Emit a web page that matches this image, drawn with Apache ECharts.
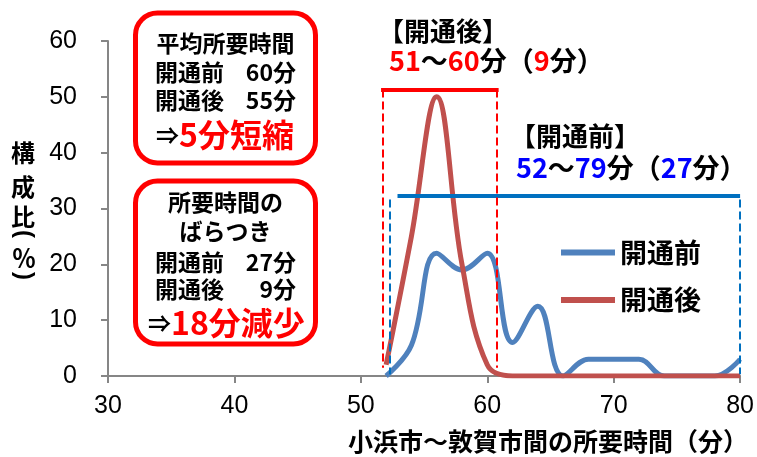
<!DOCTYPE html>
<html><head><meta charset="utf-8">
<script src="https://cdn.jsdelivr.net/npm/echarts@6/dist/echarts.min.js"></script>
<style>html,body{margin:0;padding:0;background:#fff}#c{width:757px;height:457px}</style>
</head><body><div id="c"></div>
<script>
// ---- data ----
const minutes = [52, 54, 56, 58, 60, 62, 64, 66, 68, 70, 72, 74, 76, 78, 80];
const before  = [0, 5.5, 22, 19, 22, 6, 12.5, 0, 3, 3, 3, 0, 0, 0, 3];   // 開通前
const after   = [2, 25, 50, 20, 2, 0, 0, 0, 0, 0, 0, 0, 0, 0, 0];        // 開通後
const seriesNames = ['開通前', '開通後'];
const xTicks = [30, 40, 50, 60, 70, 80];
const yTicks = [0, 10, 20, 30, 40, 50, 60];

const FF = '"Noto Sans CJK JP", "Noto Sans", sans-serif';
const NUM = '"Liberation Sans", Arial, sans-serif';
const AX = '#868686';

function pairs(xs, ys) { return xs.map((x, i) => [x, ys[i]]); }
function seg(x1, y1, x2, y2, color, width, type) {
  return [{ coord: [x1, y1], lineStyle: { color: color, width: width, type: type } }, { coord: [x2, y2] }];
}
function txt(x, y, s, size, align, color, rot, family) {
  return { type: 'text', x: x, y: y, rotation: rot || 0, style: { text: s, fontSize: size, fontWeight: 'bold', fontFamily: family || FF, fill: color || '#000', align: align || 'center', verticalAlign: 'middle' } };
}

const chart = echarts.init(document.getElementById('c'));
const option = {
  animation: false,
  backgroundColor: '#fff',
  grid: { left: 108, right: 15, top: 41, bottom: 81 },
  xAxis: {
    type: 'value', min: xTicks[0], max: xTicks[xTicks.length - 1], interval: 10,
    axisLine: { lineStyle: { color: AX, width: 2 } },
    axisTick: { length: 7, lineStyle: { color: AX, width: 2 } },
    splitLine: { show: false },
    axisLabel: { fontSize: 25, fontFamily: NUM, color: '#000', margin: 18 },
    name: '小浜市～敦賀市間の所要時間（分）',
    nameLocation: 'end', nameGap: 8,
    nameTextStyle: { fontSize: 25, fontWeight: 'bold', fontFamily: FF, color: '#000', align: 'right', verticalAlign: 'top', padding: [53, 0, 0, 0] }
  },
  yAxis: {
    type: 'value', min: yTicks[0], max: yTicks[yTicks.length - 1], interval: 10,
    axisLine: { show: true, lineStyle: { color: AX, width: 2 } },
    axisTick: { show: true, length: 7, lineStyle: { color: AX, width: 2 } },
    splitLine: { show: false },
    axisLabel: { fontSize: 25, fontFamily: NUM, color: '#000', margin: 31 }
  },
  legend: {
    orient: 'vertical', left: 561, top: 239, itemGap: 20.5, padding: 0,
    itemWidth: 54, itemHeight: 6, icon: 'rect',
    textStyle: { fontSize: 27, fontWeight: 'bold', fontFamily: FF, color: '#000' },
    data: seriesNames
  },
  series: [
    {
      name: seriesNames[0], type: 'line', data: pairs(minutes, before),
      smooth: 0.4, symbol: 'none', showSymbol: false,
      lineStyle: { color: '#4F81BD', width: 5 }, itemStyle: { color: '#4F81BD' },
      markLine: {
        silent: true, symbol: ['none', 'none'], label: { show: false },
        data: [
          seg(52.9, 32.3, 80, 32.3, '#0070C0', 4, 'solid'),
          seg(52.3, 31.6, 52.3, 0.3, '#0070C0', 2, 'dashed'),
          seg(80, 31.6, 80, 0.3, '#0070C0', 2, 'dashed')
        ]
      }
    },
    {
      name: seriesNames[1], type: 'line', data: pairs(minutes, after),
      smooth: 0.4, symbol: 'none', showSymbol: false,
      lineStyle: { color: '#C0504D', width: 5 }, itemStyle: { color: '#C0504D' },
      markLine: {
        silent: true, symbol: ['none', 'none'], label: { show: false },
        data: [
          seg(51.6, 51.3, 60.9, 51.3, '#FF0000', 4, 'solid'),
          seg(51.7, 51.3, 51.7, 1.5, '#FF0000', 2, 'dashed'),
          seg(60.75, 51.3, 60.75, 1.5, '#FF0000', 2, 'dashed')
        ]
      }
    }
  ],
  graphic: [
    // y-axis title (vertical writing; parentheses turned sideways)
    txt(23, 153, '構', 24),
    txt(23, 186.5, '成', 24),
    txt(23, 217, '比', 24),
    txt(24, 234, '(', 24, 'center', '#000', -Math.PI / 2, NUM),
    txt(24, 257.5, '％', 24),
    txt(24, 276, ')', 24, 'center', '#000', -Math.PI / 2, NUM),
    // boxes
    { type: 'rect', shape: { x: 135.5, y: 13, width: 180, height: 150, r: 22 }, style: { fill: '#fff', stroke: '#FF0000', lineWidth: 5 } },
    { type: 'rect', shape: { x: 135.5, y: 181, width: 180, height: 163, r: 22 }, style: { fill: '#fff', stroke: '#FF0000', lineWidth: 5 } },
    txt(225.5, 43, '平均所要時間', 23),
    txt(155, 72, '開通前', 23, 'left'),
    txt(296, 72, '60分', 23, 'right'),
    txt(155, 100, '開通後', 23, 'left'),
    txt(296, 100, '55分', 23, 'right'),
    { type: 'text', x: 156, y: 135, style: { text: '{a|⇒}{b|5分短縮}', align: 'left', verticalAlign: 'middle',
      rich: { a: { fontSize: 23, fontWeight: 'bold', fontFamily: FF, fill: '#000' }, b: { fontSize: 32, fontWeight: 'bold', fontFamily: FF, fill: '#FF0000' } } } },
    txt(225.5, 202, '所要時間の', 23),
    txt(225.5, 231, 'ばらつき', 23),
    txt(155, 262, '開通前', 23, 'left'),
    txt(296, 262, '27分', 23, 'right'),
    txt(155, 289, '開通後', 23, 'left'),
    txt(296, 289, '9分', 23, 'right'),
    { type: 'text', x: 148, y: 323, style: { text: '{a|⇒}{b|18分減少}', align: 'left', verticalAlign: 'middle',
      rich: { a: { fontSize: 23, fontWeight: 'bold', fontFamily: FF, fill: '#000' }, b: { fontSize: 32, fontWeight: 'bold', fontFamily: FF, fill: '#FF0000' } } } },
    txt(378, 31, '【開通後】', 26, 'left'),
    { type: 'text', x: 389, y: 61, style: { text: '{r|51}{k|～}{r|60}{k|分（}{r|9}{k|分）}', align: 'left', verticalAlign: 'middle',
      rich: { r: { fontSize: 27, fontWeight: 'bold', fontFamily: FF, fill: '#FF0000' }, k: { fontSize: 27, fontWeight: 'bold', fontFamily: FF, fill: '#000' } } } },
    txt(510, 136, '【開通前】', 26, 'left'),
    { type: 'text', x: 516, y: 167.5, style: { text: '{r|52}{k|～}{r|79}{k|分（}{r|27}{k|分）}', align: 'left', verticalAlign: 'middle',
      rich: { r: { fontSize: 27, fontWeight: 'bold', fontFamily: FF, fill: '#0000FF' }, k: { fontSize: 27, fontWeight: 'bold', fontFamily: FF, fill: '#000' } } } }
  ]
};
chart.setOption(option);
</script>
</body></html>
